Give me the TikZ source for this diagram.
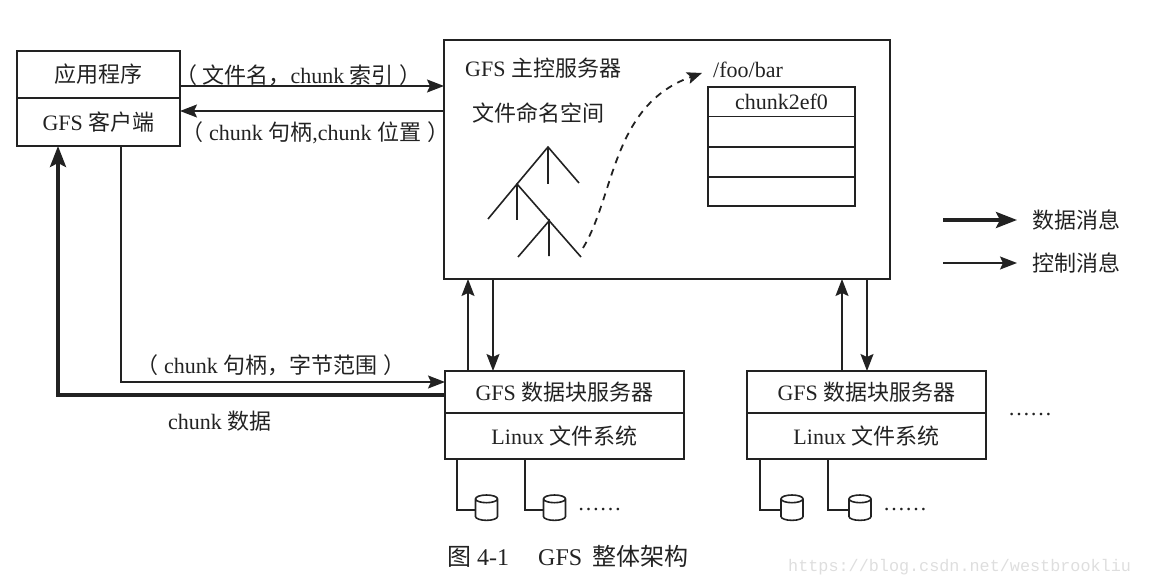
\documentclass[tikz,border=0pt]{standalone}
\usepackage{fontspec}
\setmainfont{Liberation Serif}
\setmonofont{Liberation Mono}
\newfontfamily\cjk{Noto Sans CJK SC}
\newcommand{\zh}[1]{{\cjk #1}}
\definecolor{inkcol}{HTML}{222222}
\usetikzlibrary{arrows.meta,positioning,shapes.geometric}
\tikzset{
  box/.style={draw,line width=1.6pt,minimum width=#1,inner sep=0pt,outer sep=0pt,font=\fontsize{22}{24}\selectfont},
  cell/.style={box=147},
  txt/.style={inner sep=0pt,font=\fontsize{22}{24}\selectfont},
  ctrl/.style={line width=1.6pt,-{Stealth[length=17pt,width=13pt,inset=3pt]}},
  data/.style={line width=3.6pt,-{Stealth[length=21pt,width=16pt,inset=4pt]}},
  branch/.style={line width=1.6pt},
  disk/.style={draw,line width=1.6pt,cylinder,shape border rotate=90,aspect=0.35,inner sep=0pt,outer sep=0pt}
}
\begin{document}
\begin{tikzpicture}[x=1pt,y=-1pt,color=inkcol]
  \useasboundingbox (0,0) rectangle (1170,580);

  % the client
  \node[box=163,minimum height=47] (app) at (98.5,74.5) {\zh{应用程序}};
  \node[box=163,minimum height=48,below=0pt of app] (client) {GFS \zh{客户端}};

  % the master
  \node[box=446,minimum height=239] (master) at (667,159.5) {};
  \node[txt,anchor=west] (mastername) at (465,68) {GFS \zh{主控服务器}};
  \node[txt,anchor=west] (namespace) at (472,113) {\zh{文件命名空间}};
  \node[txt,anchor=west] (path) at (713,70) {/foo/bar};

  % the chunk table
  \node[cell,minimum height=29.5] (row1) at (781.5,101.75) {chunk2ef0};
  \node[cell,minimum height=30.5,below=0pt of row1] (row2) {};
  \node[cell,minimum height=30,below=0pt of row2] (row3) {};
  \node[cell,minimum height=29,below=0pt of row3] (row4) {};

  % the tree
  \coordinate (t1) at (548,147);
  \coordinate (t2) at (517,184);
  \coordinate (t3) at (549,221);
  \draw[branch] (t2) -- (t1) -- (579,183);
  \draw[branch] (t1) -- (548,184);
  \draw[branch] (488,219) -- (t2) -- (581,257);
  \draw[branch] (t2) -- (517,220);
  \draw[branch] (518,257) -- (t3) -- (549,256);
  \coordinate (treeend) at (583,248);
  \coordinate (pathend) at (702,73);
  \draw[line width=1.8pt,dash pattern=on 7pt off 6pt,-{Stealth[length=15pt,width=12pt,inset=3pt]}]
    (treeend) .. controls (615,195) and (612,105) .. (pathend);

  % the chunkservers
  \node[box=239,minimum height=42] (cs1) at (564.5,392) {GFS \zh{数据块服务器}};
  \node[box=239,minimum height=46,below=0pt of cs1] (fs1) {Linux \zh{文件系统}};
  \node[box=239,minimum height=42] (cs2) at (866.5,392) {GFS \zh{数据块服务器}};
  \node[box=239,minimum height=46,below=0pt of cs2] (fs2) {Linux \zh{文件系统}};
  \node[txt,anchor=base west] (more) at (1008,415) {……};

  % the disks
  \foreach \n/\xa/\xb/\xc/\xd in {1/457/486.5/525/554.5,2/760/792/828/860} {
    \node[disk] (da\n) at (\xb,510) {\phantom{\rule{22pt}{13pt}}};
    \node[disk] (db\n) at (\xd,510) {\phantom{\rule{22pt}{13pt}}};
    \draw[line width=1.6pt] (\xa,459) |- (da\n.west);
    \draw[line width=1.6pt] (\xc,459) |- (db\n.west);
    \node[txt,anchor=base west] (dots\n) at (\xd+23,510) {……};
  }

  % client and master
  \draw[ctrl] (app.east |- 0,86) -- (master.west |- 0,86);
  \draw[ctrl] (master.west |- 0,111) -- (client.east |- 0,111);
  \node[txt,anchor=west] (req) at (175,75) {\zh{（}\hspace{5.5pt}\zh{文件名，}chunk \zh{索引}\hspace{5.5pt}\zh{）}};
  \node[txt,anchor=west] (resp) at (181,133) {\zh{（}\hspace{6pt}chunk \zh{句柄},chunk \zh{位置}\hspace{6pt}\zh{）}};

  % client and chunkserver
  \draw[ctrl] (121,146) |- (cs1.west |- 0,382);
  \draw[data] (cs1.west |- 0,395) -| (client.south -| 58,0);
  \node[txt,anchor=west] (rng) at (136,365) {\zh{（}\hspace{6pt}chunk \zh{句柄，字节范围}\hspace{6pt}\zh{）}};
  \node[txt,anchor=west] (chunkdata) at (168,421) {chunk \zh{数据}};

  % master and chunkservers
  \draw[ctrl] (468,371) -- (468,279);
  \draw[ctrl] (493,279) -- (493,371);
  \draw[ctrl] (842,371) -- (842,279);
  \draw[ctrl] (867,279) -- (867,371);

  % the legend
  \coordinate (la) at (943,220);
  \coordinate (lb) at (1017,220);
  \coordinate (lc) at (943,263);
  \coordinate (ld) at (1017,263);
  \draw[data] (la) -- (lb);
  \draw[ctrl] (lc) -- (ld);
  \node[txt,anchor=west] (ldata) at (1032,220) {\zh{数据消息}};
  \node[txt,anchor=west] (lctrl) at (1032,263) {\zh{控制消息}};

  % the caption
  \node[txt,anchor=west,font=\fontsize{24}{26}\selectfont] (caption) at (447,556) {\zh{图} 4-1\hspace{29pt}GFS\hspace{4pt} \zh{整体架构}};
  \node[anchor=west,inner sep=0pt,text=black!13,font=\ttfamily\fontsize{16.8}{20}\selectfont] (mark) at (788,567) {https://blog.csdn.net/westbrookliu};
\end{tikzpicture}
\end{document}
